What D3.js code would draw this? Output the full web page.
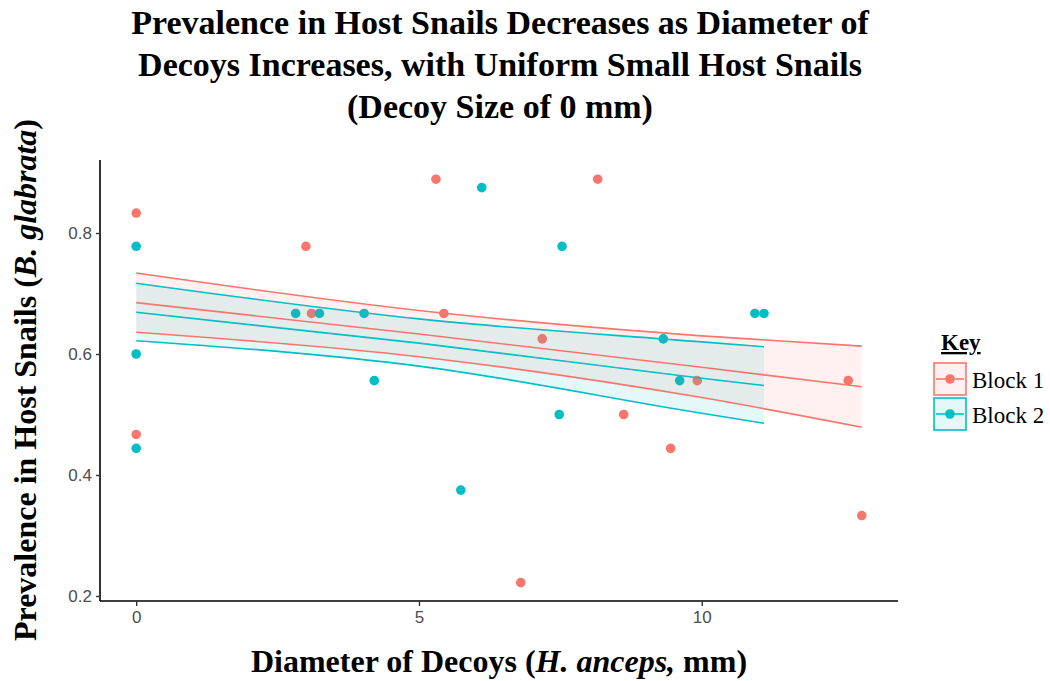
<!DOCTYPE html>
<html><head><meta charset="utf-8">
<script src="https://cdn.jsdelivr.net/npm/d3@7"></script>
<style>body{margin:0;background:#fff}</style>
</head><body>
<svg id="c" width="1050" height="681"></svg>
<script>
// Data
const block1X = [0, 0, 3.0, 3.1, 5.3, 5.44, 6.8, 7.18, 8.16, 8.62, 9.45, 9.92, 12.59, 12.83];
const block1Y = [0.833, 0.467, 0.778, 0.667, 0.889, 0.667, 0.222, 0.625, 0.889, 0.5, 0.444, 0.556, 0.556, 0.333];
const block2X = [0, 0, 0, 2.82, 3.24, 4.03, 4.21, 5.74, 6.11, 7.48, 7.53, 9.32, 9.61, 10.94, 11.1];
const block2Y = [0.778, 0.6, 0.444, 0.667, 0.667, 0.667, 0.556, 0.375, 0.875, 0.5, 0.778, 0.625, 0.556, 0.667, 0.667];
// fitted line with confidence band
const fit1X = [0, 5, 10, 12.83];
const fit1Mid = [0.685, 0.633, 0.578, 0.546];
const fit1Lo = [0.636, 0.5955, 0.528, 0.479];
const fit1Hi = [0.734, 0.672, 0.630, 0.613];
const fit2X = [0, 5, 10, 11.1];
const fit2Mid = [0.669, 0.618, 0.560, 0.548];
const fit2Lo = [0.622, 0.580, 0.502, 0.4855];
const fit2Hi = [0.717, 0.658, 0.620, 0.612];
const xTicks = [0, 5, 10];
const yTicks = [0.2, 0.4, 0.6, 0.8];
const groups = ["Block 1", "Block 2"];
const colors = ["#F8766D", "#00BFC4"];

const svg = d3.select("#c");
const x = d3.scaleLinear().domain([-0.64, 13.47]).range([100, 898]);
const y = d3.scaleLinear().domain([0.1917, 0.9207]).range([601, 160]);

const pts = [
  block1X.map((v,i)=>({x:v,y:block1Y[i],g:0})),
  block2X.map((v,i)=>({x:v,y:block2Y[i],g:1}))
];
// points (drawn first, under ribbons)
pts.forEach(arr=>{
  svg.append("g").selectAll("circle").data(arr).join("circle")
    .attr("cx",d=>x(d.x)).attr("cy",d=>y(d.y)).attr("r",4.8)
    .attr("fill",d=>colors[d.g]);
});

const fits = [
  {xs:fit1X, mid:fit1Mid, lo:fit1Lo, hi:fit1Hi},
  {xs:fit2X, mid:fit2Mid, lo:fit2Lo, hi:fit2Hi}
];
const curve = d3.curveMonotoneX;
fits.forEach((f,g)=>{
  const rows = f.xs.map((v,i)=>({x:v, mid:f.mid[i], lo:f.lo[i], hi:f.hi[i]}));
  svg.append("path").datum(rows)
    .attr("d", d3.area().curve(curve).x(d=>x(d.x)).y0(d=>y(d.lo)).y1(d=>y(d.hi)))
    .attr("fill", colors[g]).attr("fill-opacity", 0.1);
});
fits.forEach((f,g)=>{
  const rows = f.xs.map((v,i)=>({x:v, mid:f.mid[i], lo:f.lo[i], hi:f.hi[i]}));
  ["hi","mid","lo"].forEach(k=>{
    svg.append("path").datum(rows)
      .attr("d", d3.line().curve(curve).x(d=>x(d.x)).y(d=>y(d[k])))
      .attr("fill","none").attr("stroke",colors[g]).attr("stroke-width",1.6);
  });
});

// axes
const xAxis = svg.append("g").attr("transform","translate(0,601)")
  .call(d3.axisBottom(x).tickValues(xTicks).tickFormat(d3.format("d")).tickSizeOuter(0).tickSize(5).tickPadding(5));
const yAxis = svg.append("g").attr("transform","translate(100,0)")
  .call(d3.axisLeft(y).tickValues(yTicks).tickFormat(d3.format(".1f")).tickSizeOuter(0).tickSize(4).tickPadding(4));
[xAxis,yAxis].forEach(a=>{
  a.select(".domain").attr("stroke","#000").attr("stroke-width",1.6);
  a.selectAll(".tick line").attr("stroke","#333").attr("stroke-width",1.4);
  a.selectAll(".tick text").attr("fill","#4d4d4d").attr("font-family","Liberation Sans, Arial, sans-serif").attr("font-size",17);
});
xAxis.select(".domain").attr("d","M100,0H898");
yAxis.select(".domain").attr("d","M0,160V601");

// titles
const serif = "Liberation Serif, Times New Roman, serif";
const titleLines = ["Prevalence in Host Snails Decreases as Diameter of",
  "Decoys Increases, with Uniform Small Host Snails",
  "(Decoy Size of 0 mm)"];
svg.append("g").selectAll("text").data(titleLines).join("text")
  .attr("x",500).attr("y",(d,i)=>34+i*42).attr("text-anchor","middle")
  .attr("font-family",serif).attr("font-weight","bold").attr("font-size",34).text(d=>d);

const xt = svg.append("text").attr("x",499).attr("y",672).attr("text-anchor","middle")
  .attr("font-family",serif).attr("font-weight","bold").attr("font-size",32);
xt.append("tspan").text("Diameter of Decoys (");
xt.append("tspan").attr("font-style","italic").text("H. anceps,");
xt.append("tspan").text(" mm)");

const yt = svg.append("text").attr("transform","translate(36,380) rotate(-90)").attr("text-anchor","middle")
  .attr("font-family",serif).attr("font-weight","bold").attr("font-size",32);
yt.append("tspan").text("Prevalence in Host Snails (");
yt.append("tspan").attr("font-style","italic").text("B. glabrata");
yt.append("tspan").text(")");

// legend
const lg = svg.append("g");
lg.append("text").attr("x",941).attr("y",350).attr("font-family",serif).attr("font-weight","bold")
  .attr("font-size",23).attr("text-decoration","underline").text("Key");
groups.forEach((g,i)=>{
  const top = 363 + i*35;
  lg.append("rect").attr("x",934).attr("y",top).attr("width",32).attr("height",32)
    .attr("fill",colors[i]).attr("fill-opacity",0.1).attr("stroke",colors[i]).attr("stroke-width",1.6);
  lg.append("line").attr("x1",936).attr("x2",964).attr("y1",top+16).attr("y2",top+16)
    .attr("stroke",colors[i]).attr("stroke-width",1.6);
  lg.append("circle").attr("cx",950).attr("cy",top+16).attr("r",4.8).attr("fill",colors[i]);
  lg.append("text").attr("x",972).attr("y",top+25).attr("font-family",serif).attr("font-size",23).text(g);
});
</script>
</body></html>
